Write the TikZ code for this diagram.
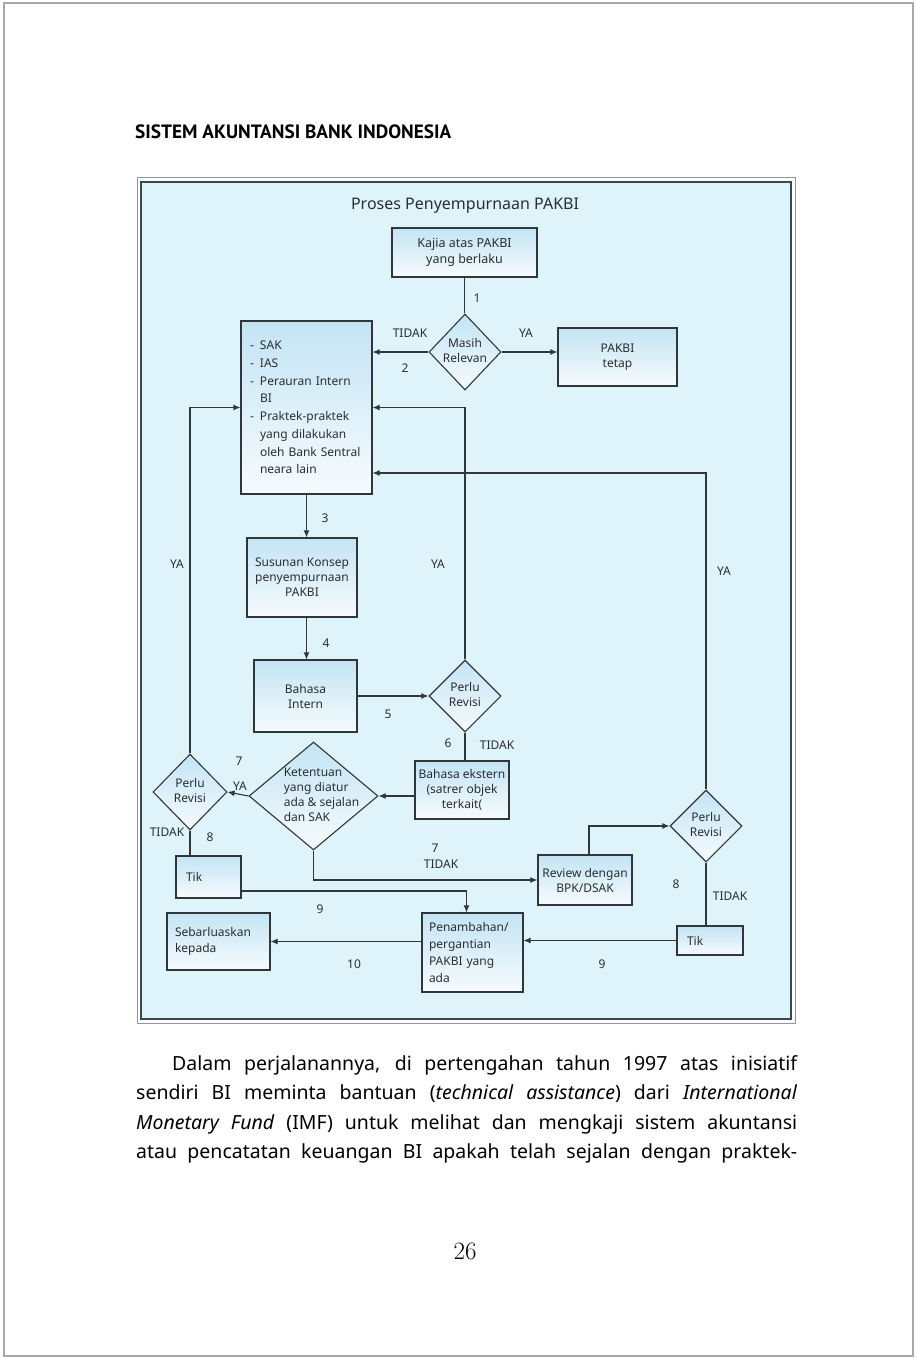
\documentclass[tikz,border=0pt]{standalone}
\usepackage{fontspec}
\setsansfont{Noto Sans}
\newfontfamily\paraf{Noto Sans}
\newfontfamily\headf{PT Sans}
\usetikzlibrary{arrows.meta,shapes.geometric,calc}
\definecolor{ln}{HTML}{30363A}
\definecolor{txt}{HTML}{2A2E31}
\definecolor{bg}{HTML}{DFF3FA}
\definecolor{boxtop}{HTML}{C3E4F4}
\definecolor{boxbot}{HTML}{F6FBFE}
\definecolor{frout}{HTML}{8C979C}
\definecolor{frin}{HTML}{3C474D}
\definecolor{pageln}{HTML}{A8A8A8}
\newcommand{\dtext}[2][0pt]{\makebox[0pt]{\hspace*{#1}\raisebox{-3pt}[0pt][0pt]{\begin{tabular}{@{}c@{}}#2\end{tabular}}}}
\newcommand{\dltext}[2][0pt]{\makebox[0pt]{\hspace*{#1}\raisebox{-3pt}[0pt][0pt]{\begin{tabular}{@{}l@{}}#2\end{tabular}}}}
\newcommand{\dash}{\makebox[10pt][l]{-}}
\newcommand{\hang}{\hspace*{10pt}}
\begin{document}
\begin{tikzpicture}[x=1pt,y=-1pt,
  every node/.style={font=\sffamily\fontsize{12}{15}\selectfont, text=txt},
  box/.style={draw=ln, line width=1.1pt, top color=boxtop, bottom color=boxbot, inner sep=1pt, align=center},
  dia/.style={diamond, draw=ln, line width=1.1pt, top color=boxtop, bottom color=boxbot, inner sep=0pt},
  lbl/.style={inner sep=0pt},
  conn/.style={draw=ln, line width=1.1pt},
  arr/.style={conn, -{Latex[length=7pt,width=6pt]}},
]
\useasboundingbox (0,0) rectangle (915,1359);
\fill[white] (0,0) rectangle (915,1359);
\draw[pageln, line width=1.5pt] (4,3) rectangle (913,1356);

% header
\node[anchor=west, inner sep=0pt, text=black] (head) at (135,132) {\resizebox{316pt}{!}{\headf\bfseries SISTEM AKUNTANSI BANK INDONESIA}};

% frame
\draw[frout, line width=1pt] (137,178) rectangle (795,1023);
\draw[frin, line width=1.2pt, fill=bg] (141,182) rectangle (791,1019);

\node[lbl, font=\sffamily\fontsize{16}{19}\selectfont] (title) at (465,206) {Proses Penyempurnaan PAKBI};

% boxes
\node[box, minimum width=145pt, minimum height=49pt, font=\sffamily\fontsize{12.5}{15.5}\selectfont] (kaj) at (464.5,252.5) {Kajia atas PAKBI\\yang berlaku};
\node[dia, minimum width=72pt, minimum height=76pt] (mr) at (465,352) {\dtext{Masih\\Relevan}};
\node[box, minimum width=119pt, minimum height=58pt] (tetap) at (617.5,357) {PAKBI\\tetap};
\node[box, minimum width=131pt, minimum height=173pt, text width=113pt, inner xsep=9pt, align=left,
      font=\sffamily\fontsize{12}{17.7}\selectfont] (src) at (306.5,407.5)
  {\dash SAK\\\dash IAS\\\dash Perauran Intern\\\hang BI\\\dash Praktek-praktek\\\hang yang dilakukan\\\hang oleh Bank Sentral\\\hang neara lain};
\node[box, minimum width=110pt, minimum height=79pt] (sus) at (302,577.5) {Susunan Konsep\\penyempurnaan\\PAKBI};
\node[box, minimum width=103pt, minimum height=72pt] (bi) at (305.5,696) {Bahasa\\Intern};
\node[dia, minimum width=72pt, minimum height=72pt] (pr1) at (465,696) {\dtext{Perlu\\Revisi}};
\node[box, minimum width=94pt, minimum height=58pt] (be) at (462,790) {Bahasa ekstern\\(satrer objek\\terkait(};
\node[dia, minimum width=129pt, minimum height=108pt] (ket) at (313.5,796) {\dltext[16pt]{Ketentuan\\yang diatur\\ada \& sejalan\\dan SAK}};
\node[dia, minimum width=74pt, minimum height=76pt] (pr2) at (190,792) {\dtext{Perlu\\Revisi}};
\node[box, minimum width=65pt, minimum height=42pt, text width=45pt, inner xsep=10pt, align=left] (tik1) at (208.5,877) {Tik};
\node[box, minimum width=94pt, minimum height=50pt] (rev) at (585,880) {Review dengan\\BPK/DSAK};
\node[dia, minimum width=72pt, minimum height=72pt] (pr3) at (706,826) {\dtext{Perlu\\Revisi}};
\node[box, minimum width=66pt, minimum height=29pt, text width=46pt, inner xsep=10pt, align=left] (tik2) at (710,940.5) {Tik};
\node[box, minimum width=101pt, minimum height=79pt, text width=87pt, inner xsep=7pt, align=left,
      font=\sffamily\fontsize{12}{17}\selectfont] (pen) at (472.5,952.5) {Penambahan/\\pergantian\\PAKBI yang\\ada};
\node[box, minimum width=103pt, minimum height=57pt, text width=87pt, inner xsep=8pt, align=left,
      font=\sffamily\fontsize{12}{16}\selectfont] (seb) at (218.5,941.5) {Sebarluaskan\\kepada};

% connectors
\draw[conn] (kaj.south) -- (kaj.south |- mr.north);
\draw[arr] (mr.west) -- (mr.west -| src.east);
\draw[arr] (mr.east) -- (mr.east -| tetap.west);
\draw[arr] (src.south) -- (src.south |- sus.north);
\draw[arr] (src.south |- sus.south) -- (src.south |- bi.north);
\draw[arr] (bi.east) -- (pr1.west);
\draw[arr] (pr1.north) |- (src.east);
\draw[conn] (pr1.south) -- (pr1.south |- be.north);
\draw[arr] (ket.east -| be.west) -- (ket.east);
\draw[arr] (ket.west) -- (pr2.east);
\draw[arr] (pr2.north) |- (src.west);
\draw[conn] (pr2.south) -- (pr2.south |- tik1.north);
\draw[arr] ([yshift=-14pt]tik1.east) -| ([xshift=-6pt]pen.north);
\draw[arr] (ket.south) |- (rev.west);
\draw[arr] ([xshift=4pt]rev.north) |- (pr3.west);
\draw[arr] (pr3.north) |- ([yshift=-65.5pt]src.east);
\draw[conn] (pr3.south) -- (pr3.south |- tik2.north);
\draw[arr] (tik2.west) -- (tik2.west -| pen.east);
\draw[arr] ([yshift=11pt]pen.west) -- ([yshift=11pt]pen.west -| seb.east);

% labels
\node[lbl] (l1) at (477,298) {1};
\node[lbl] (l2t) at (410,333) {TIDAK};
\node[lbl] (l2) at (405,368) {2};
\node[lbl] (lya1) at (526,333) {YA};
\node[lbl] (l3) at (325,518) {3};
\node[lbl] (l4) at (326,643) {4};
\node[lbl] (l5) at (388,714) {5};
\node[lbl] (lya2) at (438,564) {YA};
\node[lbl] (lya3) at (177,564) {YA};
\node[lbl] (lya4) at (724,571) {YA};
\node[lbl] (l6) at (448,743) {6};
\node[lbl] (l6t) at (497,745) {TIDAK};
\node[lbl] (l7a) at (239,761) {7};
\node[lbl] (lya5) at (240,786) {YA};
\node[lbl] (l8t) at (167,832) {TIDAK};
\node[lbl] (l8) at (210,837) {8};
\node[lbl] (l7b) at (435,848) {7};
\node[lbl] (l7t) at (441,864) {TIDAK};
\node[lbl] (l9a) at (320,909) {9};
\node[lbl] (l10) at (354,964) {10};
\node[lbl] (l8b) at (676,884) {8};
\node[lbl] (l8bt) at (730,896) {TIDAK};
\node[lbl] (l9b) at (602,964) {9};

% paragraph
\begin{scope}[every node/.style={anchor=base west, inner sep=0pt, text=black, font=\paraf\fontsize{19.5}{23}\selectfont}]
\node (p1) at (172,1070) {\hbox to 625pt{Dalam perjalanannya, di pertengahan tahun 1997 atas inisiatif}};
\node (p2) at (136,1099.5) {\hbox to 661pt{sendiri BI meminta bantuan (\textit{technical assistance}) dari \textit{International}}};
\node (p3) at (136,1129) {\hbox to 661pt{\textit{Monetary Fund} (IMF) untuk melihat dan mengkaji sistem akuntansi}};
\node (p4) at (136,1158) {\hbox to 661pt{atau pencatatan keuangan BI apakah telah sejalan dengan praktek-}};
\end{scope}

\node[inner sep=0pt, text=black, font=\rmfamily\fontsize{25}{30}\selectfont] (pg) at (465,1251) {26};
\end{tikzpicture}
\end{document}
